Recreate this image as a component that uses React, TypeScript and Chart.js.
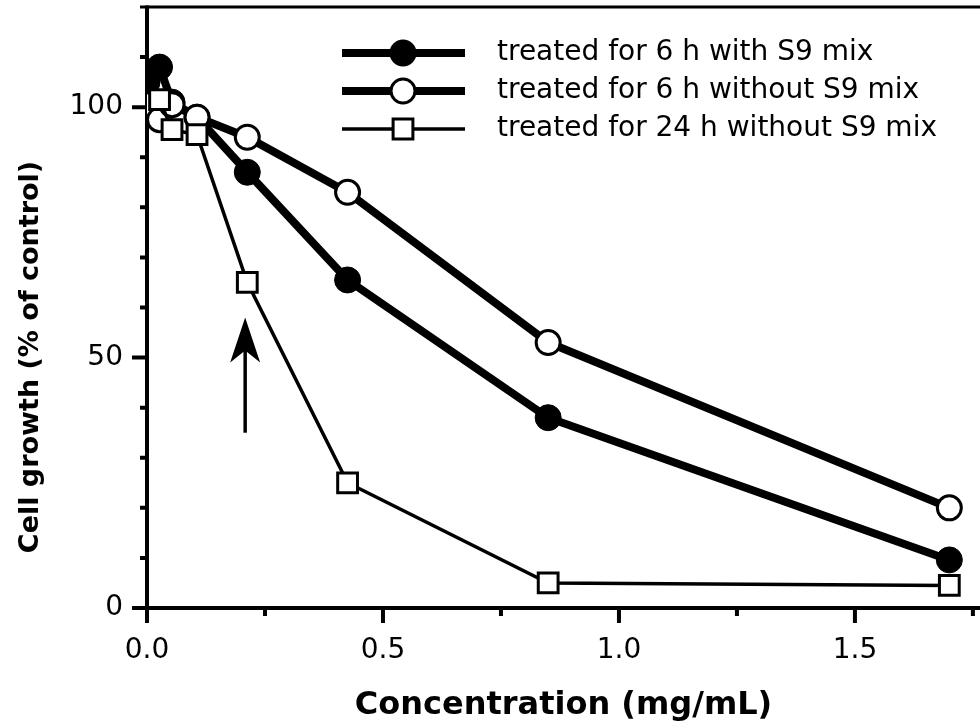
import React, { useEffect, useRef } from 'react';
import { Chart, registerables } from 'chart.js';

Chart.register(...registerables);

// ---- data ----
const X_6H_WITH_S9 = [0, 0.0266, 0.053, 0.106, 0.2125, 0.425, 0.85, 1.7];
const Y_6H_WITH_S9 = [105, 108, 101, 98, 87, 65.5, 38, 9.6];
const X_6H_WITHOUT_S9 = [0, 0.0266, 0.053, 0.106, 0.2125, 0.425, 0.85, 1.7];
const Y_6H_WITHOUT_S9 = [100.5, 97.5, 100.5, 98, 94, 83, 53, 20];
const X_24H_WITHOUT_S9 = [0.0266, 0.053, 0.106, 0.2125, 0.425, 0.85, 1.7];
const Y_24H_WITHOUT_S9 = [101.5, 95.5, 94.5, 65, 25, 5, 4.5];

const LEGEND_LABELS = [
  'treated for 6 h with S9 mix',
  'treated for 6 h without S9 mix',
  'treated for 24 h without S9 mix',
];
const X_TITLE = 'Concentration (mg/mL)';
const Y_TITLE = 'Cell growth (% of control)';

const X_MIN = 0;
const X_MAX = 1.765;
const Y_MIN = 0;
const Y_MAX = 120;
const X_MAJOR_TICKS = [0, 0.5, 1.0, 1.5];
const X_MINOR_TICKS = [0.25, 0.75, 1.25, 1.75];
const Y_MAJOR_TICKS = [0, 50, 100];
const Y_MINOR_TICKS = [10, 20, 30, 40, 60, 70, 80, 90, 110];

const ARROW_X = 0.208;
const ARROW_Y_FROM = 35;
const ARROW_Y_TO = 58;

const toPoints = (xs: number[], ys: number[]) => xs.map((x, i) => ({ x, y: ys[i] }));

const FONT = "'DejaVu Sans', sans-serif";

function drawMarker(ctx: CanvasRenderingContext2D, kind: string, x: number, y: number) {
  ctx.save();
  ctx.strokeStyle = '#000';
  if (kind === 'filled') {
    ctx.fillStyle = '#000';
    ctx.beginPath();
    ctx.arc(x, y, 13.5, 0, Math.PI * 2);
    ctx.fill();
  } else if (kind === 'open') {
    ctx.fillStyle = '#fff';
    ctx.lineWidth = 3;
    ctx.beginPath();
    ctx.arc(x, y, 12, 0, Math.PI * 2);
    ctx.fill();
    ctx.stroke();
  } else {
    const s = 14 * Math.SQRT1_2;
    ctx.fillStyle = '#fff';
    ctx.lineWidth = 3;
    ctx.beginPath();
    ctx.rect(x - s, y - s, 2 * s, 2 * s);
    ctx.fill();
    ctx.stroke();
  }
  ctx.restore();
}

const zeroPadding = (s: any) => {
  s.paddingTop = 0;
  s.paddingBottom = 0;
  s.paddingLeft = 0;
  s.paddingRight = 0;
};

const axesPlugin = {
  id: 'axesFrame',
  beforeDatasetsDraw(chart: any) {
    const { ctx, chartArea, scales } = chart;
    const xs = scales.x;
    const ys = scales.y;
    ctx.save();
    ctx.strokeStyle = '#000';
    ctx.lineCap = 'butt';
    // top frame line
    ctx.lineWidth = 3;
    ctx.beginPath();
    ctx.moveTo(chartArea.left - 7, chartArea.top);
    ctx.lineTo(chart.width, chartArea.top);
    ctx.stroke();
    // left & bottom axes
    ctx.lineWidth = 4;
    ctx.beginPath();
    ctx.moveTo(chartArea.left, chartArea.top - 1.5);
    ctx.lineTo(chartArea.left, chartArea.bottom);
    ctx.moveTo(chartArea.left, chartArea.bottom);
    ctx.lineTo(chart.width, chartArea.bottom);
    ctx.stroke();
    // ticks
    ctx.beginPath();
    X_MAJOR_TICKS.forEach((v) => {
      const px = xs.getPixelForValue(v);
      ctx.moveTo(px, chartArea.bottom);
      ctx.lineTo(px, chartArea.bottom + 15);
    });
    X_MINOR_TICKS.forEach((v) => {
      const px = xs.getPixelForValue(v);
      ctx.moveTo(px, chartArea.bottom);
      ctx.lineTo(px, chartArea.bottom + 8);
    });
    Y_MAJOR_TICKS.forEach((v) => {
      const py = ys.getPixelForValue(v);
      ctx.moveTo(chartArea.left, py);
      ctx.lineTo(chartArea.left - 15, py);
    });
    Y_MINOR_TICKS.forEach((v) => {
      const py = ys.getPixelForValue(v);
      ctx.moveTo(chartArea.left, py);
      ctx.lineTo(chartArea.left - 7, py);
    });
    ctx.stroke();

    // y axis title
    ctx.fillStyle = '#000';
    ctx.font = `bold 27px ${FONT}`;
    ctx.textAlign = 'center';
    ctx.textBaseline = 'middle';
    ctx.translate(31, 357);
    ctx.rotate(-Math.PI / 2);
    ctx.fillText(Y_TITLE, 0, 0);
    ctx.restore();
  },
  afterDatasetsDraw(chart: any) {
    const { ctx, scales } = chart;
    const ax = scales.x.getPixelForValue(ARROW_X);
    const yFrom = scales.y.getPixelForValue(ARROW_Y_FROM);
    const yTip = scales.y.getPixelForValue(ARROW_Y_TO);
    ctx.save();
    ctx.strokeStyle = '#000';
    ctx.fillStyle = '#000';
    ctx.lineWidth = 3.5;
    ctx.beginPath();
    ctx.moveTo(ax, yFrom);
    ctx.lineTo(ax, yTip + 30);
    ctx.stroke();
    ctx.beginPath();
    ctx.moveTo(ax, yTip);
    ctx.lineTo(ax + 15, yTip + 45);
    ctx.lineTo(ax, yTip + 33);
    ctx.lineTo(ax - 15, yTip + 45);
    ctx.closePath();
    ctx.fill();
    ctx.restore();

    // legend
    const rows = [53, 91, 129];
    const kinds = ['filled', 'open', 'square'];
    const widths = [8, 8, 3.5];
    ctx.save();
    ctx.font = `28px ${FONT}`;
    ctx.textBaseline = 'middle';
    ctx.fillStyle = '#000';
    rows.forEach((ry, i) => {
      ctx.strokeStyle = '#000';
      ctx.lineWidth = widths[i];
      ctx.beginPath();
      ctx.moveTo(342, ry);
      ctx.lineTo(465, ry);
      ctx.stroke();
      drawMarker(ctx, kinds[i], 403, ry);
      ctx.fillText(LEGEND_LABELS[i], 497, ry);
    });
    ctx.restore();
  },
};

export default function App() {
  const ref = useRef<HTMLCanvasElement | null>(null);

  useEffect(() => {
    if (!ref.current) return;
    const chart = new Chart(ref.current, {
      type: 'line',
      data: {
        datasets: [
          {
            label: LEGEND_LABELS[2],
            data: toPoints(X_24H_WITHOUT_S9, Y_24H_WITHOUT_S9),
            borderColor: '#000',
            borderWidth: 3.5,
            pointStyle: 'rect',
            pointRadius: 14,
            pointBackgroundColor: '#fff',
            pointBorderColor: '#000',
            pointBorderWidth: 3,
            tension: 0,
            fill: false,
          },
          {
            label: LEGEND_LABELS[1],
            data: toPoints(X_6H_WITHOUT_S9, Y_6H_WITHOUT_S9),
            borderColor: '#000',
            borderWidth: 8,
            pointStyle: 'circle',
            pointRadius: 12,
            pointBackgroundColor: '#fff',
            pointBorderColor: '#000',
            pointBorderWidth: 3,
            tension: 0,
            fill: false,
          },
          {
            label: LEGEND_LABELS[0],
            data: toPoints(X_6H_WITH_S9, Y_6H_WITH_S9),
            borderColor: '#000',
            borderWidth: 8,
            pointStyle: 'circle',
            pointRadius: 13,
            pointBackgroundColor: '#000',
            pointBorderColor: '#000',
            pointBorderWidth: 1,
            tension: 0,
            fill: false,
          },
        ],
      },
      options: {
        animation: false,
        responsive: false,
        devicePixelRatio: 1,
        layout: { autoPadding: false, padding: { top: 7, left: 0, right: 0, bottom: 0 } },
        plugins: {
          legend: { display: false },
          tooltip: { enabled: false },
        },
        scales: {
          x: {
            type: 'linear',
            min: X_MIN,
            max: X_MAX,
            grid: { display: false, drawTicks: false },
            border: { display: false },
            afterFit: (s: any) => {
              s.height = 120;
              zeroPadding(s);
            },
            ticks: {
              stepSize: 0.25,
              padding: 26,
              color: '#000',
              font: { family: FONT, size: 28 },
              maxRotation: 0,
              autoSkip: false,
              callback: (v: any) => {
                const n = Number(v);
                return X_MAJOR_TICKS.some((t) => Math.abs(t - n) < 1e-6) ? n.toFixed(1) : null;
              },
            },
            title: {
              display: true,
              text: X_TITLE,
              color: '#000',
              font: { family: FONT, size: 32, weight: 'bold', lineHeight: 1 },
              padding: { top: 0, bottom: 6 },
            },
          },
          y: {
            type: 'linear',
            min: Y_MIN,
            max: Y_MAX,
            grid: { display: false, drawTicks: false },
            border: { display: false },
            afterFit: (s: any) => {
              s.width = 147;
              zeroPadding(s);
            },
            ticks: {
              stepSize: 10,
              padding: 24,
              color: '#000',
              font: { family: FONT, size: 28 },
              autoSkip: false,
              callback: (v: any) => {
                const n = Number(v);
                return Y_MAJOR_TICKS.some((t) => Math.abs(t - n) < 1e-6) ? String(n) : null;
              },
            },
            title: { display: false },
          },
        },
      } as any,
      plugins: [axesPlugin],
    });
    return () => chart.destroy();
  }, []);

  return (
    <div style={{ position: 'absolute', left: 0, top: 0, width: 980, height: 728, background: '#fff' }}>
      <canvas ref={ref} width={980} height={728} style={{ width: 980, height: 728, display: 'block' }} />
    </div>
  );
}
